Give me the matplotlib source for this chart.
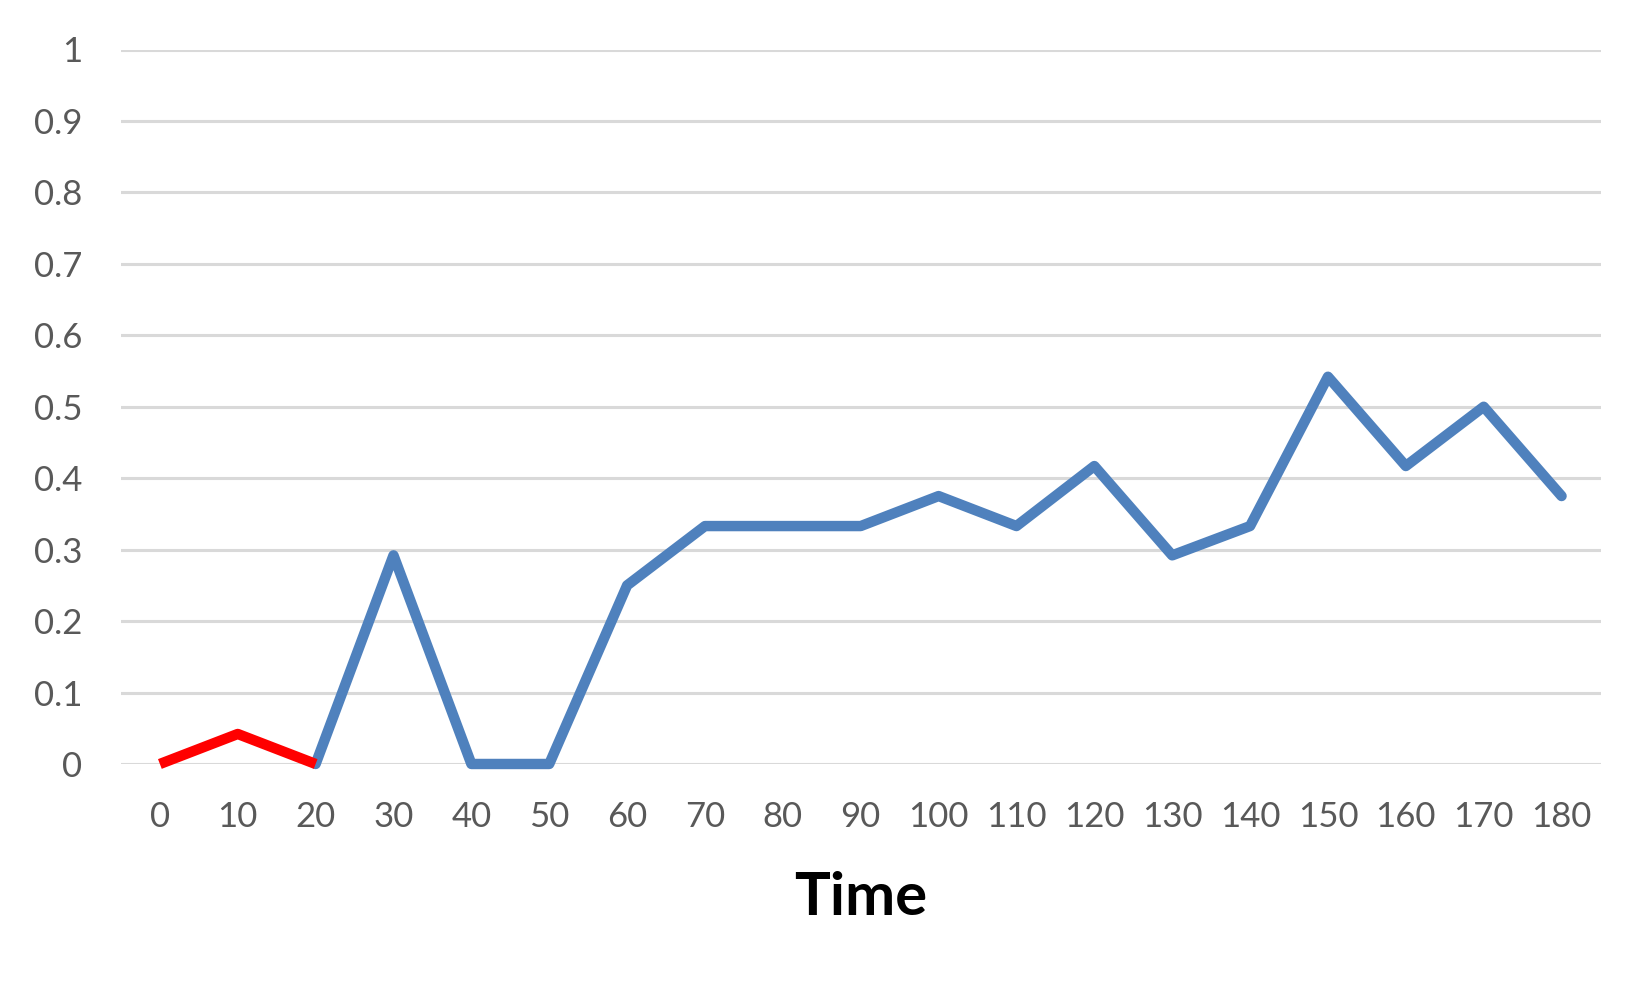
import matplotlib
matplotlib.use("Agg")
import matplotlib.pyplot as plt

# categories along the time axis
times = [0, 10, 20, 30, 40, 50, 60, 70, 80, 90, 100, 110, 120, 130, 140, 150, 160, 170, 180]
# values
values = [0, 0.042, 0, 0.292, 0, 0, 0.25, 0.333, 0.333, 0.333, 0.375, 0.333,
          0.417, 0.292, 0.333, 0.542, 0.417, 0.5, 0.375]
red_until = 20  # first part of the series is drawn in red

plt.rcParams['font.family'] = ['Lato', 'DejaVu Sans']

fig = plt.figure(figsize=(16.5, 9.9), dpi=100)
ax = fig.add_axes([0.0733, 0.2283, 0.8967, 0.7217])

n_red = times.index(red_until) + 1
ax.plot(times[n_red - 1:], values[n_red - 1:], color='#4F81BD', linewidth=7.5,
        solid_capstyle='round', solid_joinstyle='round', clip_on=False, zorder=3)
ax.plot(times[:n_red], values[:n_red], color='#FF0000', linewidth=7.5,
        solid_capstyle='butt', solid_joinstyle='round', clip_on=False, zorder=4)

ax.set_xlim(-5, 185)
ax.set_ylim(0, 1)
ax.set_xticks(times)
ax.set_xticklabels([str(t) for t in times])
ax.set_yticks([i / 10 for i in range(11)])
ax.set_yticklabels(['0'] + ['0.%d' % i for i in range(1, 10)] + ['1'])

ax.grid(axis='y', color='#D9D9D9', linewidth=2.2)
ax.set_axisbelow(True)
for s in ax.spines.values():
    s.set_visible(False)
ax.tick_params(axis='both', length=0, labelsize=25, labelcolor='#595959')
ax.tick_params(axis='x', pad=27)
ax.tick_params(axis='y', pad=28)

ax.set_xlabel('Time', fontsize=43, fontweight='bold', color='black', labelpad=27)

fig.savefig('out.png', dpi=100, facecolor='white')
